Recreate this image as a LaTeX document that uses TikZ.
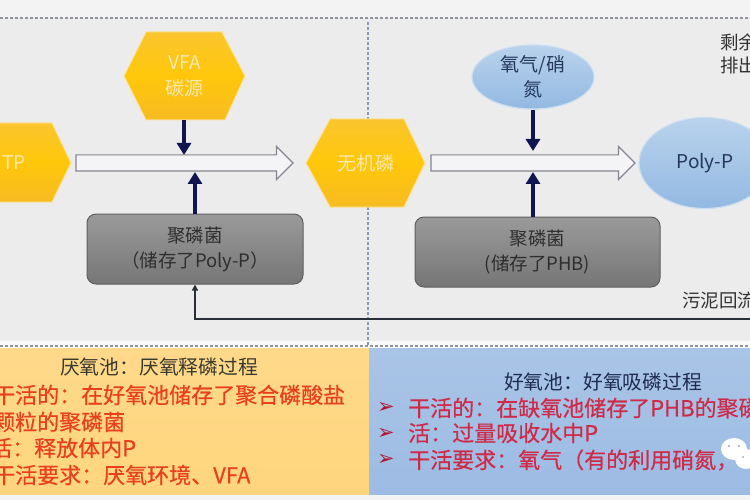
\documentclass[tikz,border=0pt]{standalone}
\usepackage{fontspec}
\setmainfont{Noto Sans CJK SC}
\newfontfamily\symfont{DejaVu Sans}
\newfontfamily\panelfont[FakeBold=0.5]{Noto Sans CJK SC}
\usetikzlibrary{arrows.meta,shapes.geometric,shapes.arrows}
\definecolor{bgmain}{HTML}{ECECEC}
\definecolor{bgedge}{HTML}{F3F3F3}
\definecolor{dashc}{HTML}{8F939C}
\definecolor{DashBlue}{HTML}{8C97B5}
\definecolor{navy}{HTML}{0E1550}
\definecolor{hexedge}{HTML}{FBE39A}
\definecolor{txtred}{HTML}{E8401F}
\definecolor{txtpink}{HTML}{CF2A48}
\definecolor{HexTop}{HTML}{FBC52E}
\definecolor{HexMid}{HTML}{FFC70A}
\definecolor{HexBot}{HTML}{F7BB22}
\definecolor{HexText}{HTML}{FBE9B0}
\definecolor{OvalTop}{HTML}{B9D2EC}
\definecolor{OvalBot}{HTML}{93B9E2}
\definecolor{OvalEdge}{HTML}{CBDDF0}
\definecolor{OvalText}{HTML}{24385C}
\definecolor{GreyTop}{HTML}{9A9A9A}
\definecolor{GreyBot}{HTML}{767676}
\definecolor{GreyEdge}{HTML}{5F5F5F}
\definecolor{GreyText}{HTML}{2E2E2E}
\definecolor{FlowEdge}{HTML}{85858F}
\definecolor{FlowFill}{HTML}{F4F4F6}
\definecolor{RetLine}{HTML}{2B2F3A}
\definecolor{SideText}{HTML}{333333}
\definecolor{BulletRed}{HTML}{B01830}
\definecolor{PanelOrTop}{HTML}{FFD98A}
\definecolor{PanelOrBot}{HTML}{FFD67E}
\definecolor{PanelBlTop}{HTML}{A9C4E6}
\definecolor{PanelBlBot}{HTML}{9DBCE4}
\definecolor{TitleDark}{HTML}{3A3A30}
\definecolor{TitleBlue}{HTML}{1E2C50}
\newcommand{\fsz}[1]{\fontsize{#1}{#1}\selectfont}
\tikzset{
  x=1pt,y=-1pt,
  hexpath/.style={draw=hexedge,line width=1pt,top color=HexTop,bottom color=HexBot,middle color=HexMid},
  hexlabel/.style={inner sep=0pt,align=center,text=HexText,font=\fsz{19},execute at begin node=\setlength{\baselineskip}{26pt}},
  ovalnode/.style={ellipse,draw=OvalEdge,line width=1.2pt,top color=OvalTop,bottom color=OvalBot,inner sep=0pt,align=center,text=OvalText},
  greybox/.style={rectangle,rounded corners=9pt,draw=GreyEdge,line width=1pt,top color=GreyTop,bottom color=GreyBot,inner sep=0pt,align=center,text=GreyText,font=\fsz{18.5},execute at begin node=\setlength{\baselineskip}{25pt}},
  flowarrow/.style={single arrow,draw=FlowEdge,fill=FlowFill,line width=1.2pt,inner sep=0pt,minimum width=32pt,single arrow head extend=8.5pt,single arrow tip angle=90,single arrow head indent=0pt},
  pusharrow/.style={draw=navy,line width=3.4pt,-{Triangle[width=14pt,length=12pt]}},
  returnline/.style={draw=RetLine,line width=1.5pt,-{Triangle[width=6pt,length=6pt]}},
  dashline/.style={draw=dashc,line width=1.6pt,dash pattern=on 3pt off 2pt},
  paneltext/.style={anchor=west,inner sep=0pt,font=\panelfont\fsz{22}},
  paneltitle/.style={inner sep=0pt,font=\fsz{19.8}},
  sidetext/.style={anchor=west,inner sep=0pt,font=\fsz{18.5},text=SideText},
  bulletmark/.style={inner sep=0pt,font=\symfont\fsz{21},text=BulletRed},
}
\begin{document}
\begin{tikzpicture}
\useasboundingbox (0,0) rectangle (750,500);
\clip (0,0) rectangle (750,500);
% backgrounds
\fill[bgedge] (0,0) rectangle (750,500);
\fill[bgmain] (0,18) rectangle (750,341);
\fill[white!70!bgedge] (0,341) rectangle (750,348);
\shade[top color=PanelOrTop,bottom color=PanelOrBot] (0,348) rectangle (369,494);
\shade[top color=PanelBlTop,bottom color=PanelBlBot] (369,348) rectangle (750,494);
% dashed frame
\coordinate (dl) at (0,18); \coordinate (dr) at (750,18);
\coordinate (ml) at (0,346); \coordinate (mr) at (750,346);
\coordinate (vt) at (368,22); \coordinate (vb) at (368,346);
\draw[dashline] (dl) -- (dr);
\draw[dashline] (ml) -- (mr);
\draw[dashline,draw=DashBlue] (vt) -- (vb);
% hexagons
\path[hexpath] (124,76) -- (146,32) -- (222,32) -- (245,76) -- (225,120) -- (146,120) -- cycle;
\node[hexlabel,minimum width=121pt,minimum height=88pt] (vfa) at (184.5,76) {VFA\\碳源};
\path[hexpath] (-20,123) -- (52,123) -- (71,163) -- (52,202) -- (-20,202) -- cycle;
\node[hexlabel,minimum height=79pt] (tp) at (14,163) {TP};
\path[hexpath] (306,163) -- (330,119) -- (404,119) -- (425,163) -- (404,207) -- (330,207) -- cycle;
\node[hexlabel,minimum width=119pt,minimum height=88pt] (pi) at (365.5,163) {无机磷};
% ellipses
\node[ovalnode,minimum width=122pt,minimum height=64pt,font=\fsz{19},execute at begin node=\setlength{\baselineskip}{25pt}] (oxy) at (533,77) {氧气/硝\\氮};
\node[ovalnode,minimum width=132pt,minimum height=91pt,font=\fsz{19}] (poly) at (705,163) {Poly-P};
% flow arrows
\node[flowarrow,minimum height=217pt] (flowa) at (180.5,163) {\rule{0pt}{15pt}};
\node[flowarrow,minimum height=204pt] (flowb) at (529,163) {\rule{0pt}{15pt}};
% grey boxes
\node[greybox,minimum width=216pt,minimum height=70pt] (boxa) at (195,249) {聚磷菌\\（储存了Poly-P）};
\node[greybox,minimum width=245pt,minimum height=70pt] (boxb) at (537.5,252) {聚磷菌\\(储存了PHB)};
% connectors
\coordinate (hita) at (184,155);
\coordinate (hitb) at (195,172);
\coordinate (hitc) at (533,151);
\coordinate (hitd) at (533,172);
\coordinate (boxbtop) at (533,217);
\draw[pusharrow] (vfa.south -| hita) -- (hita);
\draw[pusharrow] (boxa.north) -- (hitb);
\draw[pusharrow] (oxy.south) -- (hitc);
\draw[pusharrow] (boxbtop) -- (hitd);
\coordinate (retstart) at (750,319);
\draw[returnline] (retstart) -| (boxa.south);
% side labels
\node[sidetext] (t1) at (720,42) {剩余};
\node[sidetext] (t2) at (720,65) {排出};
\node[sidetext] (t3) at (682,300) {污泥回流};
% orange panel text
\node[paneltitle,text=TitleDark] (ot) at (159,367) {厌氧池：厌氧释磷过程};
\node[paneltext,text=txtred] (o1) at (-7,395) {干活的：在好氧池储存了聚合磷酸盐};
\node[paneltext,text=txtred] (o2) at (-7,422) {颗粒的聚磷菌};
\node[paneltext,text=txtred] (o3) at (-10,448) {活：释放体内P};
\node[paneltext,text=txtred] (o4) at (-7,475) {干活要求：厌氧环境、VFA};
% blue panel text
\node[paneltitle,text=TitleBlue] (bt) at (603,382) {好氧池：好氧吸磷过程};
\node[bulletmark] (b1) at (386,408) {➢};
\node[bulletmark] (b2) at (386,434) {➢};
\node[bulletmark] (b3) at (386,460) {➢};
\node[paneltext,text=txtpink] (l1) at (408,408) {干活的：在缺氧池储存了PHB的聚磷菌};
\node[paneltext,text=txtpink] (l2) at (408,433) {活：过量吸收水中P};
\node[paneltext,text=txtpink] (l3) at (408,460) {干活要求：氧气（有的利用硝氮，};
% logo
\fill[white] (734,449) ellipse (13pt and 11pt);
\fill[white] (746,459) ellipse (11pt and 10pt);
\fill[black!35] (729,446) circle (1.2pt) (739,446) circle (1.2pt) (743,457) circle (1pt);
\end{tikzpicture}
\end{document}
